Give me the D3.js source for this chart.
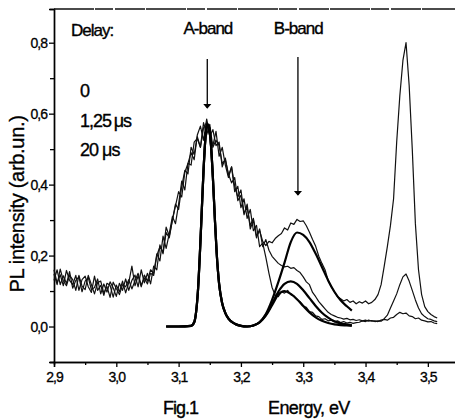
<!DOCTYPE html>
<html>
<head>
<meta charset="utf-8">
<script src="https://cdn.jsdelivr.net/npm/d3@7"></script>
<style>
  html, body { margin: 0; padding: 0; background: #fff; }
  svg { display: block; font-family: "Liberation Sans", Arial, sans-serif; }
</style>
</head>
<body>
<svg id="chart" width="455" height="419"></svg>
<script>
// ---------- DATA ----------
const energy = [
  2.900,2.905,2.910,2.915,2.920,2.925,2.930,2.935,2.940,2.945,
  2.950,2.955,2.960,2.965,2.970,2.975,2.980,2.985,2.990,2.995,
  3.000,3.005,3.010,3.015,3.020,3.025,3.030,3.035,3.040,3.045,
  3.050,3.055,3.060,3.065,3.070,3.075,3.080,3.085,3.090,3.095,
  3.100,3.105,3.110,3.115,3.120,3.125,3.130,3.135,3.140,3.145,
  3.150,3.155,3.160,3.165,3.170,3.175,3.180,3.185,3.190,3.195,
  3.200,3.205,3.210,3.215,3.220,3.225,3.230,3.235,3.240,3.245,
  3.250,3.255,3.260,3.265,3.270,3.275,3.280,3.285,3.290,3.295,
  3.300,3.305,3.310,3.315,3.320,3.325,3.330,3.335,3.340,3.345,
  3.350,3.355,3.360,3.365,3.370,3.375,3.380,3.385,3.390,3.395,
  3.400,3.405,3.410,3.415,3.420,3.425,3.430,3.435,3.440,3.445,
  3.450,3.455,3.460,3.465,3.470,3.475,3.480,3.485,3.490,3.495,
  3.500,3.505,3.510,3.515
];

// PL spectrum, delay 0
const delay0 = [
  .160,.123,.146,.115,.158,.130,.118,.144,.102,.132,
  .142,.112,.096,.142,.102,.116,.088,.122,.116,.083,
  .117,.098,.128,.095,.124,.170,.115,.143,.112,.145,
  .128,.160,.150,.205,.185,.255,.220,.262,.310,.290,
  .345,.410,.385,.460,.490,.470,.540,.565,.525,.585,
  .540,.510,.550,.480,.505,.455,.420,.450,.395,.365,
  .385,.320,.335,.285,.305,.255,.270,.240,.228,.240,
  .236,.248,.256,.262,.278,.272,.292,.288,.302,.296,
  .298,.284,.266,.245,.226,.198,.178,.160,.130,.112,
  .098,.084,.078,.072,.076,.068,.072,.064,.070,.066,
  .072,.064,.068,.076,.090,.118,.170,.225,.285,.360,
  .520,.650,.750,.800,.680,.500,.290,.160,.090,.056,
  .042,.034,.028,.024
];

// PL spectrum, delay 1.25 us
const delay125 = [
  .130,.160,.118,.143,.121,.155,.108,.130,.140,.098,
  .128,.138,.104,.110,.134,.092,.120,.097,.126,.109,
  .085,.122,.102,.134,.102,.130,.145,.112,.160,.123,
  .150,.120,.170,.160,.230,.205,.265,.250,.300,.345,
  .330,.395,.440,.430,.505,.485,.535,.505,.575,.540,
  .570,.505,.525,.510,.460,.470,.430,.405,.420,.355,
  .370,.315,.345,.275,.300,.250,.275,.225,.245,.215,
  .198,.188,.178,.172,.168,.170,.164,.166,.158,.152,
  .140,.126,.118,.096,.084,.070,.060,.050,.040,.034,
  .030,.026,.024,.021,.023,.019,.020,.017,.019,.016,
  .018,.015,.017,.014,.016,.015,.022,.032,.052,.072,
  .092,.118,.140,.148,.128,.102,.075,.052,.036,.028,
  .022,.020,.016,.014
];

// PL spectrum, delay 20 us
const delay20 = [
  .148,.118,.162,.129,.115,.144,.132,.102,.144,.114,
  .104,.144,.118,.092,.124,.128,.094,.113,.082,.125,
  .107,.090,.118,.112,.132,.106,.129,.150,.116,.137,
  .120,.150,.144,.200,.225,.210,.280,.255,.300,.340,
  .380,.365,.435,.460,.455,.520,.530,.505,.560,.575,
  .535,.555,.510,.520,.450,.475,.425,.450,.380,.395,
  .335,.360,.305,.330,.270,.285,.225,.235,.195,.150,
  .110,.088,.084,.098,.094,.102,.090,.086,.076,.070,
  .058,.054,.042,.040,.030,.028,.020,.022,.016,.018,
  .013,.016,.011,.014,.010,.012,.009,.011,.012,.016,
  .014,.018,.015,.016,.014,.018,.020,.018,.024,.026,
  .034,.040,.036,.038,.030,.028,.022,.024,.018,.016,
  .013,.014,.010,.008
];

// Smooth fitted bands (A-band + B-band)
const fitEnergy = [
  3.080,3.100,3.120,3.125,3.128,3.131,3.134,3.137,3.140,3.143,
  3.146,3.149,3.152,3.155,3.158,3.161,3.165,3.170,3.175,3.180,
  3.190,3.200,3.210,3.220,3.230,3.240,3.250,3.260,3.270,3.280,
  3.290,3.300,3.310,3.320,3.330,3.340,3.350,3.360,3.370,3.378
];
const fitHigh = [
  .000,.000,.002,.012,.040,.100,.200,.320,.440,.530,
  .570,.560,.510,.420,.310,.210,.120,.065,.038,.022,
  .008,.002,.000,.003,.012,.035,.075,.125,.180,.238,
  .265,.258,.238,.205,.168,.130,.098,.074,.057,.045
];
const fitMid = [
  .000,.000,.002,.012,.040,.100,.200,.320,.440,.530,
  .570,.560,.510,.420,.310,.210,.120,.065,.038,.022,
  .008,.002,.000,.003,.012,.033,.064,.098,.120,.127,
  .120,.102,.080,.058,.039,.025,.015,.009,.006,.004
];
const fitLow = [
  .000,.000,.002,.012,.040,.100,.200,.320,.440,.530,
  .570,.560,.510,.420,.310,.210,.120,.065,.038,.022,
  .008,.002,.000,.003,.012,.031,.060,.090,.100,.092,
  .077,.058,.040,.026,.016,.010,.006,.004,.003,.002
];

const xTicks = [2.9, 3.0, 3.1, 3.2, 3.3, 3.4, 3.5];
const yTicks = [0.0, 0.2, 0.4, 0.6, 0.8];
const delayLabels = ["0", "1,25\u2009\u03bcs", "20  \u03bcs"];

// ---------- DRAW ----------
const svg = d3.select("#chart");
const x = d3.scaleLinear().domain([2.9, 3.55]).range([54, 459]);
const y = d3.scaleLinear().domain([-0.1, 0.895]).range([362, 9]);
const comma = d => d3.format(".1f")(d).replace(".", ",");

// axes
const gx = svg.append("g").attr("transform", `translate(0,${y(-0.1)})`)
  .call(d3.axisBottom(x).tickValues(xTicks).tickSize(5).tickPadding(5).tickFormat(comma));
const gxm = svg.append("g").attr("transform", `translate(0,${y(-0.1)})`)
  .call(d3.axisBottom(x).tickValues(xTicks.map(t => t + 0.05)).tickSize(3).tickFormat(""));
const gy = svg.append("g").attr("transform", `translate(${x(2.9)},0)`)
  .call(d3.axisLeft(y).tickValues(yTicks).tickSize(5).tickPadding(2).tickFormat(comma));
const gym = svg.append("g").attr("transform", `translate(${x(2.9)},0)`)
  .call(d3.axisLeft(y).tickValues([-0.1, 0.1, 0.3, 0.5, 0.7]).tickSize(4).tickFormat(""));

[gx, gxm, gy, gym].forEach(g => {
  g.select(".domain").attr("stroke", "#000").attr("stroke-width", 1.4);
  g.selectAll(".tick line").attr("stroke", "#000").attr("stroke-width", 1.3);
});
[gx, gy].forEach(g => g.selectAll("text").attr("font-size", 14).attr("letter-spacing", "-1px")
  .attr("fill", "#000").attr("stroke", "#000").attr("stroke-width", 0.3)
  .attr("font-family", "Liberation Sans, Arial"));

// top frame line (scanned, slightly broken)
svg.append("line")
  .attr("x1", x(2.9)).attr("x2", 455).attr("y1", y(0.895)).attr("y2", y(0.895))
  .attr("stroke", "#111").attr("stroke-width", 1.3)
  .attr("stroke-dasharray", "40,1,18,2,30,1");

// spectra lines
const line = d3.line().x(d => x(d[0])).y(d => y(d[1]));
[delay0, delay125, delay20].forEach(vals => {
  svg.append("path")
    .datum(energy.map((e, i) => [e, vals[i]]))
    .attr("fill", "none").attr("stroke", "#111")
    .attr("stroke-width", 1.2).attr("stroke-linejoin", "round")
    .attr("d", line);
});

const smooth = d3.line().x(d => x(d[0])).y(d => y(d[1])).curve(d3.curveMonotoneX);
[fitHigh, fitMid, fitLow].forEach(vals => {
  svg.append("path")
    .datum(fitEnergy.map((e, i) => [e, vals[i]]))
    .attr("fill", "none").attr("stroke", "#000")
    .attr("stroke-width", 2.2).attr("stroke-linejoin", "round")
    .attr("d", smooth);
});

// annotations
const txt = (s, xx, yy, size, anchor, ls) => svg.append("text")
  .attr("x", xx).attr("y", yy).attr("font-size", size)
  .attr("letter-spacing", ls || "-1.2px").attr("text-anchor", anchor || "start")
  .attr("fill", "#000").attr("stroke", "#000").attr("stroke-width", 0.35).text(s);

txt("Delay:", 71, 36, 17, "start", "-1px");
delayLabels.forEach((s, i) => txt(s, 80, [97, 127, 156][i], 18, "start", "-1px"));
txt("A-band", x(3.147), 34, 17, "middle", "-1px");
txt("B-band", x(3.292), 34, 17, "middle", "-1px");

// arrows
svg.append("defs").append("marker")
  .attr("id", "ah").attr("viewBox", "0 0 6 10").attr("refX", 5).attr("refY", 5)
  .attr("markerWidth", 4).attr("markerHeight", 7).attr("orient", "auto")
  .append("path").attr("d", "M0,0 L6,5 L0,10 z").attr("fill", "#000");
[[3.146, 59, 108], [3.2915, 57, 195]].forEach(([e, y1, y2]) => {
  svg.append("line").attr("x1", x(e)).attr("x2", x(e)).attr("y1", y1).attr("y2", y2)
    .attr("stroke", "#000").attr("stroke-width", 1.3).attr("marker-end", "url(#ah)");
});

// axis titles
svg.append("text")
  .attr("transform", "translate(24,204) rotate(-90)")
  .attr("text-anchor", "middle").attr("font-size", 20).attr("letter-spacing", "-0.3px")
  .attr("fill", "#000").attr("stroke", "#000").attr("stroke-width", 0.35)
  .text("PL intensity  (arb.un.)");
txt("Fig.1", 163, 414, 18, "start", "-1px");
txt("Energy, eV", 268, 414, 18, "start", "-0.6px");
</script>
</body>
</html>
